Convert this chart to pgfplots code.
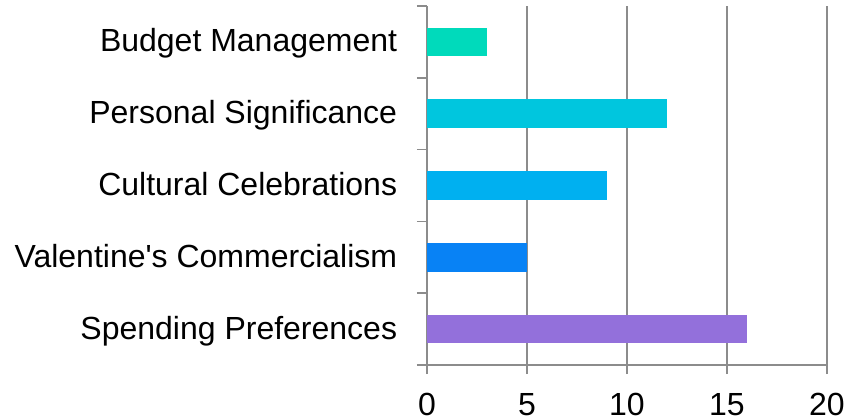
\documentclass[border=0pt]{standalone}
\usepackage{fontspec}
\setmainfont{Liberation Sans}
\usepackage{pgfplots}
\pgfplotsset{compat=1.18}

\definecolor{gridgray}{RGB}{140,140,140}
\definecolor{cBudget}{RGB}{0,218,187}
\definecolor{cPersonal}{RGB}{0,198,222}
\definecolor{cCultural}{RGB}{0,176,240}
\definecolor{cValentine}{RGB}{8,130,245}
\definecolor{cSpending}{RGB}{147,112,219}

\begin{document}
\begin{tikzpicture}
\useasboundingbox (0,0) rectangle (424.5bp,209.5bp);
\begin{axis}[
  at={(213.5bp,27bp)}, anchor=south west,
  scale only axis, width=200bp, height=179.5bp,
  xmin=0, xmax=20, ymin=0.5, ymax=5.5,
  axis lines=left,
  axis line style={-, draw=gridgray, line width=0.75bp},
  xtick={0,5,10,15,20},
  ytick={1,2,3,4,5},
  yticklabels={Spending Preferences, Valentine\textquotesingle s Commercialism, Cultural Celebrations, Personal Significance, Budget Management},
  minor ytick={0.5,1.5,2.5,3.5,4.5,5.5},
  tick align=outside,
  major tick length=4.5bp,
  minor tick length=5bp,
  major x tick style={draw=gridgray, line width=0.75bp},
  major y tick style={draw=none},
  minor y tick style={draw=gridgray, line width=0.75bp},
  xmajorgrids,
  major grid style={draw=gridgray, line width=0.75bp},
  /pgf/number format/assume math mode=true,
  tick label style={font=\fontsize{16bp}{19bp}\selectfont, inner sep=0pt},
  xticklabel style={anchor=base, yshift=-20.5bp},
  yticklabel style={anchor=base east, xshift=-10.25bp, yshift=-5bp},
  clip=false,
]
\addplot[xbar, bar width=0.4, bar shift=0pt, fill=cSpending, draw=none] coordinates {(16,1)};
\addplot[xbar, bar width=0.4, bar shift=0pt, fill=cValentine, draw=none] coordinates {(5,2)};
\addplot[xbar, bar width=0.4, bar shift=0pt, fill=cCultural, draw=none] coordinates {(9,3)};
\addplot[xbar, bar width=0.4, bar shift=0pt, fill=cPersonal, draw=none] coordinates {(12,4)};
\addplot[xbar, bar width=0.4, bar shift=0pt, fill=cBudget, draw=none] coordinates {(3,5)};
\end{axis}
\end{tikzpicture}
\end{document}
